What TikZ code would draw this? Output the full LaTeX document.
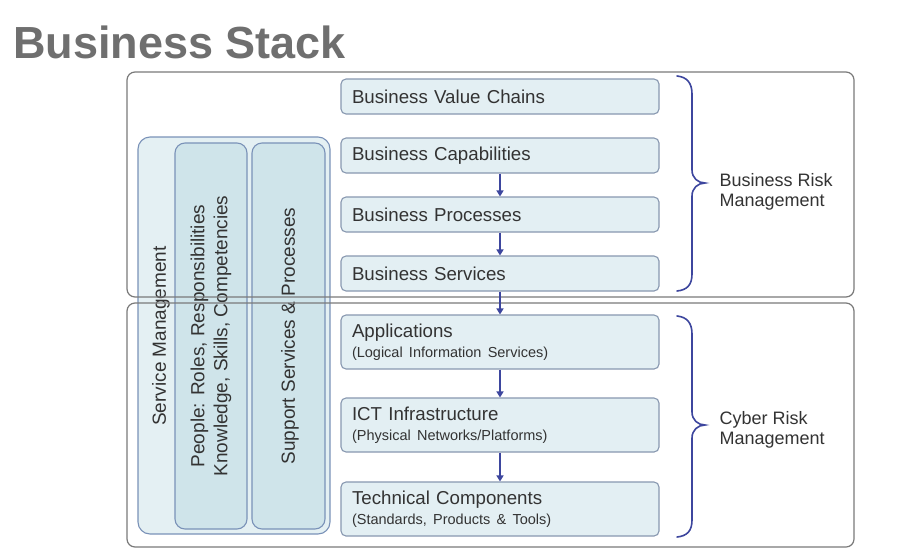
\documentclass[tikz,border=0pt]{standalone}
\usepackage{fontspec}
\setmainfont{Liberation Sans}
\usetikzlibrary{arrows.meta}
\definecolor{titlegray}{HTML}{6F6F6F}
\definecolor{textgray}{HTML}{333333}
\definecolor{framegray}{HTML}{7A7A7A}
\definecolor{layerfill}{HTML}{E3EFF3}
\definecolor{layerline}{HTML}{8898B0}
\definecolor{colfill}{HTML}{CFE4EA}
\definecolor{colouter}{HTML}{E4F0F3}
\definecolor{colline}{HTML}{7A92B8}
\definecolor{linkblue}{HTML}{3D469E}
\newcommand\subsize{\fontsize{14.5}{17}\selectfont}
\tikzset{
  layer/.style={draw=layerline, fill=layerfill, line width=1.1pt, rounded corners=5pt,
    minimum width=318pt, text width=296pt, inner xsep=11pt, align=left,
    text=textgray, font=\fontsize{18.7}{20.5}\selectfont},
  tall/.style={minimum height=54pt},
  short/.style={minimum height=35pt},
  column/.style={draw=colline, fill=colfill, line width=1.1pt, rounded corners=10pt},
  coltext/.style={rotate=90, text=textgray, align=center, font=\fontsize{19}{23}\selectfont},
  frame/.style={draw=framegray, line width=1.2pt, rounded corners=8pt},
  link/.style={draw=linkblue, line width=1.6pt, -{Triangle[length=6pt,width=7pt]}},
  curly/.style={draw=linkblue, line width=1.6pt, line cap=round},
  risk/.style={anchor=west, align=left, text=textgray, font=\fontsize{18}{20}\selectfont}
}
\begin{document}
\begin{tikzpicture}[x=1pt, y=-1pt]
\useasboundingbox[fill=white] (0,0) rectangle (917,552);

% title
\node[anchor=base west, inner sep=0pt, text=titlegray, font=\fontsize{45}{48}\bfseries\selectfont]
  (title) at (13,58) {Business Stack};

% backgrounds of the two risk zones
\fill[white, rounded corners=8pt] (127,72) rectangle (854,297);
\fill[white, rounded corners=8pt] (127,303) rectangle (854,547);

% cross-cutting columns on the left
\path[column, fill=colouter, rounded corners=12pt] (138,137) rectangle (330,534);
\path[column] (175,143) rectangle (247,529);
\path[column] (252,143) rectangle (325,529);
\node[coltext] (svc) at (161,336) {Service Management};
\node[coltext] (people) at (211,336) {People: Roles, Responsibilities\\Knowledge, Skills, Competencies};
\node[coltext] (support) at (290,336) {Support Services \& Processes};

% zone frames, drawn over the columns
\draw[frame] (127,72) rectangle (854,297);
\draw[frame] (127,303) rectangle (854,547);

% stack layers
\node[layer, short] (bvc)  at (500,96.5)  {Business Value Chains};
\node[layer, short] (bcap) at (500,155.5) {Business Capabilities};
\node[layer, short] (bproc) at (500,214.5) {Business Processes};
\node[layer, short] (bserv) at (500,273.5) {Business Services};
\node[layer, tall] (app)  at (500,342) {Applications\\[-1pt]{\subsize (Logical Information Services)}};
\node[layer, tall] (ict)  at (500,425) {ICT Infrastructure\\[-1pt]{\subsize (Physical Networks/Platforms)}};
\node[layer, tall] (tech) at (500,509) {Technical Components\\[-1pt]{\subsize (Standards, Products \& Tools)}};

% dependencies between layers
\draw[link] (bcap) -- (bproc);
\draw[link] (bproc) -- (bserv);
\draw[link] (bserv) -- (app);
\draw[link] (app) -- (ict);
\draw[link] (ict) -- (tech);

% braces
\coordinate (btip) at (705,183);
\coordinate (ctip) at (705,425);
\draw[curly] (677,76) .. controls (687,77) and (692,83) .. (692,94)
  -- (692,170) .. controls (692,178) and (698,183) .. (btip)
  .. controls (698,183) and (692,188) .. (692,196)
  -- (692,274) .. controls (692,285) and (687,290) .. (677,291);
\draw[curly] (677,316) .. controls (687,317) and (692,323) .. (692,334)
  -- (692,412) .. controls (692,420) and (698,425) .. (ctip)
  .. controls (698,425) and (692,430) .. (692,438)
  -- (692,520) .. controls (692,531) and (687,536) .. (677,537);

% risk labels
\node[risk] (brm) at (716,192) {Business Risk\\Management};
\node[risk] (crm) at (716,430) {Cyber Risk\\Management};
\end{tikzpicture}
\end{document}
